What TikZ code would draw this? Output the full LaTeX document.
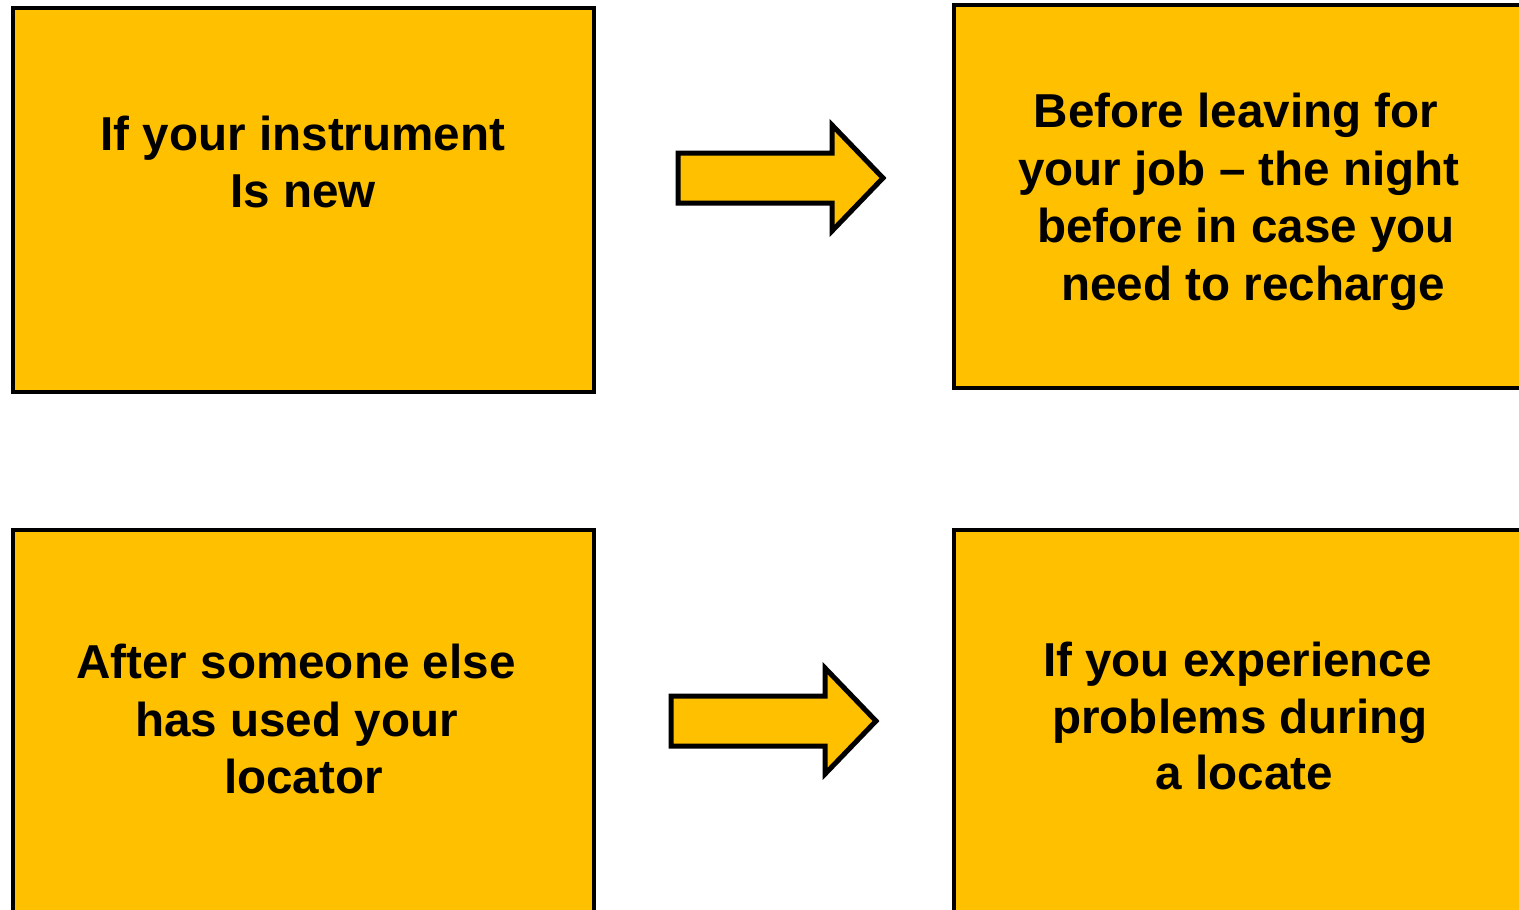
\documentclass[tikz,border=0pt]{standalone}
\usepackage{fontspec}
\setmainfont{Liberation Sans}
\definecolor{gold}{HTML}{FFC000}
\begin{document}
\begin{tikzpicture}[x=1pt,y=-1pt,
  box/.style={draw=black,fill=gold,line width=4.5pt,line join=miter},
  blockarrow/.style={draw=black,fill=gold,line width=5pt,line join=miter},
  txt/.style={anchor=base,inner sep=0pt,font=\fontsize{47.6}{57.5}\selectfont\bfseries}]
\useasboundingbox (0,0) rectangle (1519,910);
\clip (0,0) rectangle (1519,910);
% boxes
\path[box] (13,8) rectangle (594,392);
\path[box] (954,5) rectangle (1560,388);
\path[box] (13,530) rectangle (594,960);
\path[box] (954,530) rectangle (1560,960);
% arrows
\path[blockarrow] (678,153) -- (832,153) -- (832,125) -- (883,178) -- (832,231) -- (832,203) -- (678,203) -- cycle;
\path[blockarrow] (671,696) -- (825,696) -- (825,668) -- (876,721) -- (825,774) -- (825,746) -- (671,746) -- cycle;
% texts
\node[txt] (a1) at (303,150) {If your instrument};
\node[txt] (a2) at (303,207) {Is new};
\node[txt] (b1) at (1236,127) {Before leaving for};
\node[txt] (b2) at (1239,185) {your job -- the night};
\node[txt] (b3) at (1246,242) {before in case you};
\node[txt] (b4) at (1253,300) {need to recharge};
\node[txt] (c1) at (296,678) {After someone else};
\node[txt] (c2) at (296.5,736) {has used your};
\node[txt] (c3) at (303.5,793) {locator};
\node[txt] (d1) at (1237.5,676) {If you experience};
\node[txt] (d2) at (1240,733) {problems during};
\node[txt] (d3) at (1244.5,789) {a locate};
\end{tikzpicture}
\end{document}
